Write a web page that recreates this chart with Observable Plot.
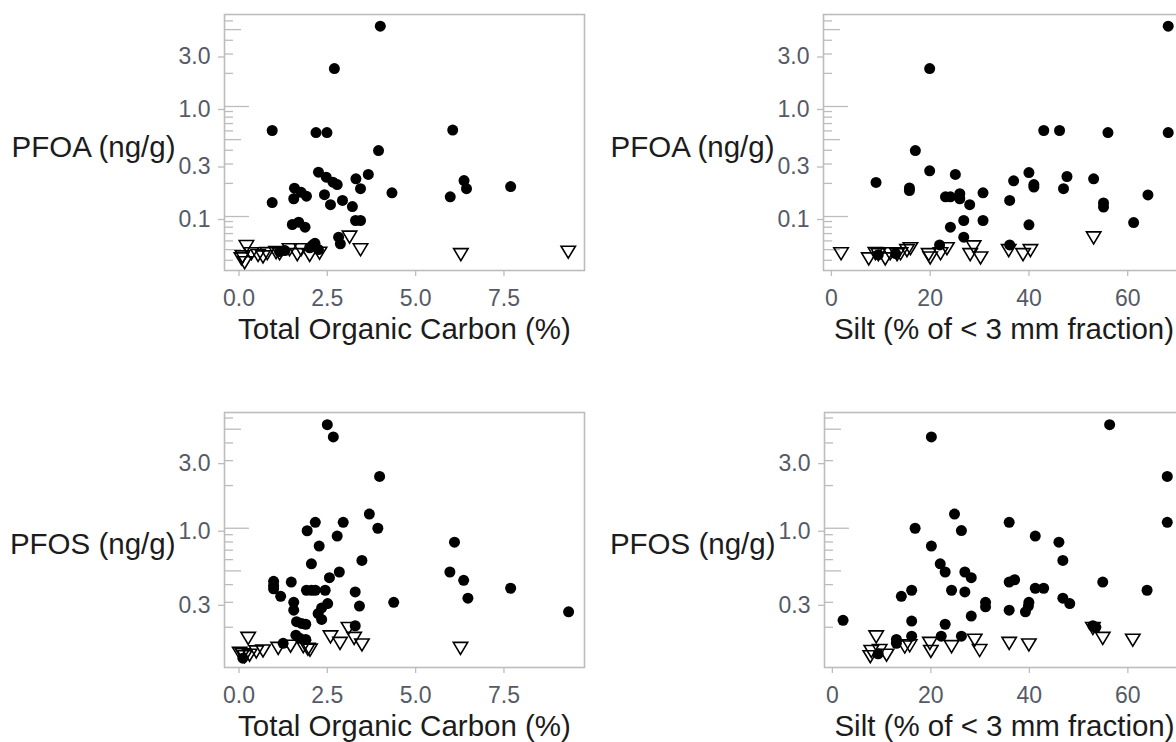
<!DOCTYPE html>
<html>
<head>
<meta charset="utf-8">
<script src="https://cdn.jsdelivr.net/npm/d3@7"></script>
<script src="https://cdn.jsdelivr.net/npm/@observablehq/plot@0.6"></script>
<style>
html, body { margin: 0; padding: 0; background: #fff; overflow: hidden; }
#wrap { position: relative; width: 1176px; height: 742px; overflow: hidden; background: #fff; }
.panel { position: absolute; width: 600px; height: 371px; }
.panel svg { max-width: none !important; }
</style>
</head>
<body>
<div id="wrap"></div>
<script>
// ---------- Data ----------
// Top-left: PFOA vs Total Organic Carbon
const tocPfoaDetX = [4.00, 2.70, 0.94, 2.18, 2.49, 6.05, 3.95, 2.25, 2.47, 2.66, 2.78, 3.31, 3.66, 3.44, 4.33, 2.42, 2.59, 2.93, 3.21, 1.57, 1.55, 1.76, 1.91, 0.94, 1.51, 1.69, 1.87, 3.30, 3.44, 5.98, 6.37, 6.44, 7.69, 2.82, 2.87, 2.09, 1.15, 1.30, 2.00, 2.15, 2.25];
const tocPfoaDetY = [5.37, 2.21, 0.605, 0.58, 0.58, 0.61, 0.398, 0.253, 0.228, 0.205, 0.195, 0.22, 0.241, 0.179, 0.164, 0.158, 0.128, 0.14, 0.123, 0.181, 0.145, 0.166, 0.153, 0.134, 0.0846, 0.0888, 0.08, 0.092, 0.092, 0.151, 0.212, 0.179, 0.187, 0.0649, 0.0565, 0.0552, 0.048, 0.049, 0.052, 0.057, 0.05];
const tocPfoaNdX = [0.21, 0.07, 0.16, 0.35, 0.54, 0.68, 0.80, 1.15, 1.43, 1.65, 1.76, 2.00, 2.28, 3.13, 3.44, 6.28, 9.32, 0.10, 1.05];
const tocPfoaNdY = [0.0533, 0.0412, 0.038, 0.0458, 0.0442, 0.043, 0.046, 0.0458, 0.0498, 0.045, 0.0498, 0.0442, 0.0464, 0.0649, 0.0498, 0.045, 0.0474, 0.043, 0.047];

// Top-right: PFOA vs Silt
const siltPfoaDetX = [68.2, 19.9, 43.0, 46.2, 56.0, 68.2, 17.0, 19.9, 25.1, 40.0, 47.7, 53.1, 36.9, 9.04, 15.8, 15.8, 41.0, 41.0, 47.0, 30.7, 23.1, 24.1, 26.0, 26.0, 36.1, 64.1, 28.0, 55.1, 55.1, 26.8, 30.7, 40.0, 61.2, 24.1, 26.8, 21.9, 36.1, 9.5, 13.0];
const siltPfoaDetY = [5.37, 2.21, 0.605, 0.605, 0.58, 0.58, 0.398, 0.26, 0.241, 0.251, 0.231, 0.22, 0.211, 0.204, 0.182, 0.172, 0.195, 0.185, 0.179, 0.164, 0.151, 0.151, 0.161, 0.145, 0.14, 0.157, 0.128, 0.133, 0.122, 0.092, 0.092, 0.084, 0.0881, 0.08, 0.0649, 0.0552, 0.0552, 0.045, 0.046];
const siltPfoaNdX = [1.96, 7.56, 8.9, 10.9, 11.9, 13.3, 14.0, 15.3, 16.0, 19.7, 22.1, 23.4, 28.1, 28.8, 30.2, 35.9, 38.8, 40.3, 53.1, 20.0, 9.5];
const siltPfoaNdY = [0.0458, 0.0412, 0.046, 0.0412, 0.0458, 0.045, 0.0458, 0.049, 0.051, 0.045, 0.0458, 0.051, 0.045, 0.053, 0.042, 0.049, 0.045, 0.049, 0.064, 0.042, 0.045];

// Bottom-left: PFOS vs Total Organic Carbon
const tocPfosDetX = [2.50, 2.67, 3.98, 3.69, 3.93, 2.16, 2.95, 1.93, 2.78, 2.27, 6.10, 3.48, 2.05, 2.84, 5.97, 6.36, 2.56, 0.98, 0.98, 0.98, 1.48, 1.18, 1.91, 2.05, 2.16, 2.44, 7.69, 3.29, 4.38, 6.48, 3.41, 1.55, 1.55, 2.51, 2.34, 2.24, 2.34, 1.63, 1.77, 1.89, 3.29, 9.33, 1.61, 1.72, 1.89, 1.25, 0.11];
const tocPfosDetY = [5.38, 4.41, 2.32, 1.26, 1.0, 1.10, 1.10, 0.96, 0.88, 0.748, 0.797, 0.593, 0.561, 0.491, 0.491, 0.429, 0.448, 0.422, 0.395, 0.374, 0.417, 0.331, 0.365, 0.365, 0.365, 0.365, 0.377, 0.355, 0.30, 0.321, 0.282, 0.30, 0.264, 0.294, 0.274, 0.25, 0.227, 0.219, 0.213, 0.21, 0.205, 0.257, 0.176, 0.167, 0.164, 0.154, 0.121];
const tocPfosNdX = [0.26, 0.02, 0.16, 0.30, 0.49, 0.68, 1.11, 1.46, 1.82, 2.01, 2.59, 2.86, 3.10, 3.26, 3.48, 6.27, 0.10, 1.95];
const tocPfosNdY = [0.167, 0.131, 0.124, 0.127, 0.134, 0.136, 0.142, 0.147, 0.146, 0.138, 0.171, 0.154, 0.196, 0.167, 0.15, 0.142, 0.128, 0.14];

// Bottom-right: PFOS vs Silt
const siltPfosDetX = [56.3, 20.1, 68.0, 68.0, 24.8, 35.9, 16.8, 26.2, 41.2, 46.0, 20.1, 46.8, 21.9, 22.9, 26.9, 28.2, 35.9, 37.0, 54.9, 14.0, 16.1, 24.2, 26.9, 41.2, 42.9, 63.9, 46.8, 48.2, 31.1, 31.1, 39.9, 39.8, 39.2, 35.9, 28.2, 16.1, 2.17, 22.9, 52.9, 53.5, 16.1, 22.1, 26.2, 13.0, 13.0, 9.3];
const siltPfosDetY = [5.38, 4.41, 2.32, 1.10, 1.26, 1.10, 1.0, 0.963, 0.88, 0.797, 0.748, 0.593, 0.561, 0.491, 0.491, 0.448, 0.417, 0.433, 0.417, 0.331, 0.365, 0.365, 0.355, 0.377, 0.377, 0.365, 0.321, 0.294, 0.30, 0.279, 0.30, 0.282, 0.257, 0.264, 0.24, 0.221, 0.224, 0.21, 0.205, 0.2, 0.173, 0.173, 0.173, 0.164, 0.154, 0.13];
const siltPfosNdX = [8.9, 7.9, 9.6, 11.0, 7.7, 14.7, 15.7, 19.8, 20.0, 24.2, 28.9, 29.9, 35.9, 39.9, 52.9, 54.9, 61.0];
const siltPfosNdY = [0.171, 0.135, 0.137, 0.127, 0.124, 0.145, 0.148, 0.154, 0.135, 0.146, 0.162, 0.137, 0.154, 0.15, 0.196, 0.167, 0.162];

// Axis ticks and labels
const tocTicks = [0, 2.5, 5, 7.5];
const siltTicks = [0, 20, 40, 60];
const pfoaTicks = [0.1, 0.3, 1, 3];
const pfosTicks = [0.3, 1, 3];
const minorLong = [0.1, 1];
const minorMed = [0.05, 0.5, 5];
const minorShort = [0.04, 0.06, 0.07, 0.08, 0.09, 0.2, 0.3, 0.4, 0.6, 0.7, 0.8, 0.9, 2, 3, 4, 6];
const titles = {
  toc: "Total Organic Carbon (%)",
  silt: "Silt (% of < 3 mm fraction)",
  pfoa: "PFOA (ng/g)",
  pfos: "PFOS (ng/g)"
};

// ---------- Drawing ----------
const GRAY = "#bcbcbc";
const LABEL = "#555a66";
const TITLE = "#1c1c1c";
const FONT = "'Liberation Sans', Arial, Helvetica, sans-serif";

const downTriangle = {
  draw(context, size) {
    const r = Math.sqrt(size / Math.PI);
    const w = r * 1.2;
    context.moveTo(-w, -r);
    context.lineTo(w, -r);
    context.lineTo(0, r);
    context.closePath();
  }
};

function rows(xs, ys) { return xs.map((x, i) => ({x, y: ys[i]})); }

function panel(cfg) {
  const width = 600, marginLeft = cfg.marginLeft, marginRight = 16;
  const fw = width - marginLeft - marginRight;
  const inRange = (v) => v >= cfg.yDomain[0] && v <= cfg.yDomain[1];
  return Plot.plot({
    width, height: cfg.height,
    marginLeft, marginRight, marginTop: cfg.marginTop, marginBottom: cfg.marginBottom,
    style: {fontFamily: FONT, background: "white", overflow: "visible", maxWidth: "none"},
    x: {domain: cfg.xDomain},
    y: {type: "log", domain: cfg.yDomain},
    marks: [
      Plot.tickY(minorLong.filter(inRange), {y: d => d, stroke: GRAY, strokeWidth: 1.3, insetRight: fw - 25}),
      Plot.tickY(minorMed.filter(inRange), {y: d => d, stroke: GRAY, strokeWidth: 1.3, insetRight: fw - 17}),
      Plot.tickY(minorShort.filter(inRange), {y: d => d, stroke: GRAY, strokeWidth: 1.3, insetRight: fw - 9}),
      Plot.frame({stroke: GRAY, strokeWidth: 1.6}),
      Plot.axisX({ticks: cfg.xTicks, tickFormat: cfg.xFormat, tickSize: 6, tickPadding: 13, fontSize: 23, stroke: GRAY, strokeWidth: 1.3, fill: LABEL, label: null}),
      Plot.axisY({ticks: cfg.yTicks, tickFormat: d3.format(".1f"), tickSize: 6, tickPadding: 8, fontSize: 23, dy: 3, stroke: GRAY, strokeWidth: 1.3, fill: LABEL, label: null}),
      Plot.dot(rows(cfg.detX, cfg.detY), {x: "x", y: "y", r: 5.5, fill: "black", stroke: "none"}),
      Plot.dot(rows(cfg.ndX, cfg.ndY), {x: "x", y: "y", r: 6, symbol: downTriangle, fill: "none", stroke: "black", strokeWidth: 1.6}),
      Plot.text([cfg.yTitle], {text: d => d, frameAnchor: "left", lineAnchor: "middle", dx: -49, dy: 5, textAnchor: "end", fontSize: 29.5, fill: TITLE}),
      Plot.text([cfg.xTitle], {text: d => d, frameAnchor: "bottom", lineAnchor: "middle", dy: 59, fontSize: 29.5, fill: TITLE})
    ]
  });
}

const wrap = document.getElementById("wrap");
const tocDomain = [-0.41, 9.78];
const siltDomain = [-1.6, 71.5];
const pfoaDomain = [0.0323, 6.86];
const pfosDomain = [0.104, 6.56];
const fmtToc = d3.format(".1f");
const fmtSilt = d => String(d);

const specs = [
  {left: 0, top: 0, marginLeft: 224, height: 371, marginTop: 14, marginBottom: 101,
   xDomain: tocDomain, yDomain: pfoaDomain, xTicks: tocTicks, yTicks: pfoaTicks, xFormat: fmtToc,
   detX: tocPfoaDetX, detY: tocPfoaDetY, ndX: tocPfoaNdX, ndY: tocPfoaNdY, xTitle: titles.toc, yTitle: titles.pfoa},
  {left: 600, top: 0, marginLeft: 223, height: 371, marginTop: 14, marginBottom: 101,
   xDomain: siltDomain, yDomain: pfoaDomain, xTicks: siltTicks, yTicks: pfoaTicks, xFormat: fmtSilt,
   detX: siltPfoaDetX, detY: siltPfoaDetY, ndX: siltPfoaNdX, ndY: siltPfoaNdY, xTitle: titles.silt, yTitle: titles.pfoa},
  {left: 0, top: 371, marginLeft: 224, height: 371, marginTop: 41, marginBottom: 75,
   xDomain: tocDomain, yDomain: pfosDomain, xTicks: tocTicks, yTicks: pfosTicks, xFormat: fmtToc,
   detX: tocPfosDetX, detY: tocPfosDetY, ndX: tocPfosNdX, ndY: tocPfosNdY, xTitle: titles.toc, yTitle: titles.pfos},
  {left: 600, top: 371, marginLeft: 224, height: 371, marginTop: 41, marginBottom: 75,
   xDomain: siltDomain, yDomain: pfosDomain, xTicks: siltTicks, yTicks: pfosTicks, xFormat: fmtSilt,
   detX: siltPfosDetX, detY: siltPfosDetY, ndX: siltPfosNdX, ndY: siltPfosNdY, xTitle: titles.silt, yTitle: titles.pfos}
];

for (const s of specs) {
  const div = document.createElement("div");
  div.className = "panel";
  div.style.left = s.left + "px";
  div.style.top = s.top + "px";
  div.appendChild(panel(s));
  wrap.appendChild(div);
}
</script>
</body>
</html>
